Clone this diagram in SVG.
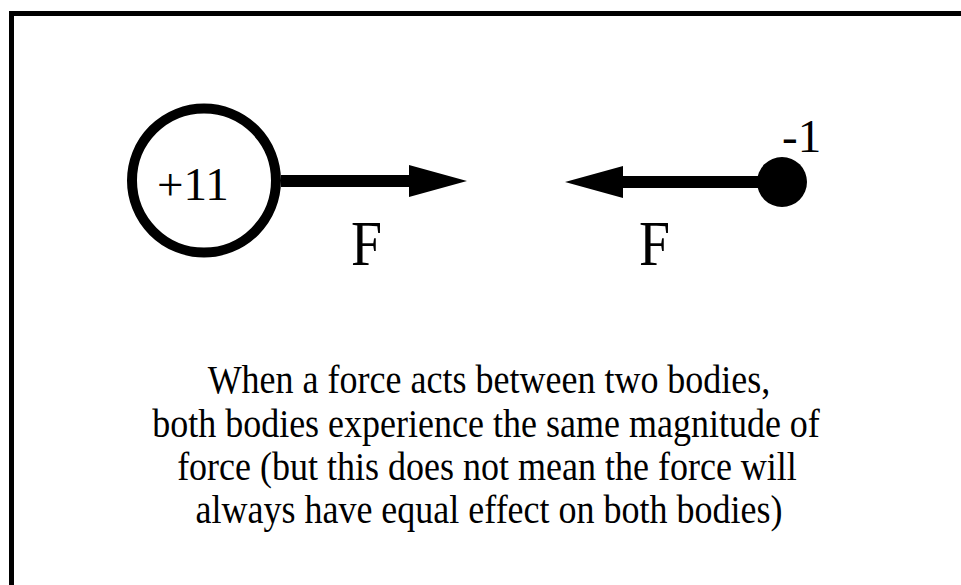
<svg xmlns="http://www.w3.org/2000/svg" width="961" height="585" viewBox="0 0 961 585">
<style>
text{font-family:"Liberation Serif","Times New Roman",serif;fill:#000}
.cap{font-size:41px;text-anchor:middle}
.lbl{font-size:64px}
.chg{font-size:47px}
.arr{stroke:#000;stroke-width:12;fill:none}
</style>
<defs>
<marker id="head" markerUnits="userSpaceOnUse" markerWidth="58" markerHeight="32" refX="0" refY="16" orient="auto" viewBox="0 0 58 32">
<path d="M0,0 L58,16 L0,32 Z" fill="#000"/>
</marker>
</defs>
<rect x="0" y="0" width="961" height="585" fill="#fff"/>
<rect id="frame" x="11.5" y="13.5" width="980" height="600" fill="none" stroke="#000" stroke-width="5"/>
<g id="connectors">
<path class="arr" d="M281,181 H409" marker-end="url(#head)"/>
<path class="arr" d="M782,182 H623" marker-end="url(#head)"/>
</g>
<g id="positive-charge">
<circle cx="204" cy="180.5" r="72" fill="#fff" stroke="#000" stroke-width="10"/>
<text class="chg" x="193" y="200" text-anchor="middle">+11</text>
</g>
<g id="negative-charge">
<circle cx="782" cy="182" r="25" fill="#000"/>
<text class="chg" x="782" y="152">-1</text>
</g>
<g id="force-left"><text class="lbl" transform="translate(351,265) scale(0.87,1)">F</text></g>
<g id="force-right"><text class="lbl" transform="translate(639,265) scale(0.87,1)">F</text></g>
<g id="caption">
<text class="cap" transform="translate(489,393) scale(0.878,1)">When a force acts between two bodies,</text>
<text class="cap" transform="translate(486,437) scale(0.878,1)">both bodies experience the same magnitude of</text>
<text class="cap" transform="translate(487,480) scale(0.878,1)">force (but this does not mean the force will</text>
<text class="cap" transform="translate(489,523) scale(0.878,1)">always have equal effect on both bodies)</text>
</g>
</svg>
